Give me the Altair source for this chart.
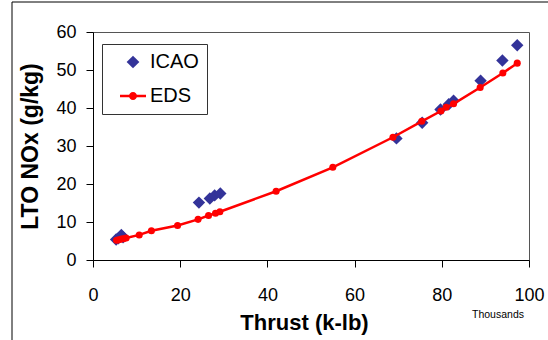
import altair as alt
import pandas as pd

# ---- data ----
icao_thrust = [5.3, 5.8, 6.5, 6.9, 24.3, 26.8, 27.9, 29.2, 69.6, 75.5, 79.7, 81.6, 82.7, 88.9, 93.9, 97.3]
icao_nox = [5.4, 5.7, 6.6, 6.0, 15.1, 16.2, 17.0, 17.5, 32.0, 36.1, 39.6, 41.0, 41.9, 47.2, 52.5, 56.5]

eds_thrust = [5.4, 5.9, 6.5, 7.0, 7.6, 10.6, 13.4, 19.4, 24.1, 26.5, 28.1, 29.1,
              42.0, 55.0, 68.8, 75.4, 79.8, 81.0, 82.7, 88.8, 94.0, 97.3]
eds_nox = [5.2, 5.3, 5.5, 5.6, 5.8, 6.6, 7.7, 9.1, 10.7, 11.7, 12.3, 12.7,
           18.1, 24.4, 32.3, 36.5, 39.2, 40.2, 41.1, 45.4, 49.2, 51.8]

series_names = ["ICAO", "EDS"]
x_ticks = [0, 20, 40, 60, 80, 100]
y_ticks = [0, 10, 20, 30, 40, 50, 60]

icao_df = pd.DataFrame({"thrust": icao_thrust, "nox": icao_nox, "series": "ICAO"})
eds_df = pd.DataFrame({"thrust": eds_thrust, "nox": eds_nox, "series": "EDS"})

W, H = 436, 228
FONT = "Liberation Sans"

diamond_path = "M-0.98,0L0,-0.98L0.98,0L0,0.98Z"
line_dot_path = ("M-2,-0.19L2,-0.19L2,0.19L-2,0.19Z "
                 "M0.62,0A0.62,0.62 0 1,1 -0.62,0A0.62,0.62 0 1,1 0.62,0Z")

x_scale = alt.Scale(domain=[0, 100], nice=False, zero=False, padding=0)
y_scale = alt.Scale(domain=[0, 60], nice=False, padding=0)

x_axis = alt.Axis(values=x_ticks, title="Thrust (k-lb)", grid=False, labelOverlap=False,
                  labelFlush=False, labelFontSize=18, labelPadding=19, tickSize=7,
                  titleFontSize=22, titleFontWeight="bold", titleX=211, titleY=69,
                  titleBaseline="alphabetic", titleAlign="center")
y_axis = alt.Axis(values=y_ticks, title="LTO NOx (g/kg)", grid=False, labelOverlap=False,
                  labelFlush=False, labelFontSize=18, labelPadding=10, tickSize=7,
                  titleFontSize=23, titleFontWeight="bold", titleX=-63, titleY=114,
                  titleAngle=270, titleBaseline="middle", titleAlign="center")

legend = alt.Legend(title=None, orient="none", legendX=9, legendY=12,
                    fillColor="white", strokeColor="#333333", padding=8,
                    labelFontSize=20, labelOffset=7, symbolSize=169,
                    symbolOffset=13, symbolStrokeWidth=0, rowPadding=14)

color_enc = alt.Color("series:N", scale=alt.Scale(domain=series_names, range=["#333399", "#FF0000"]),
                      legend=legend)
shape_enc = alt.Shape("series:N", scale=alt.Scale(domain=series_names, range=[diamond_path, line_dot_path]),
                      legend=legend)

X = alt.X("thrust:Q", scale=x_scale, axis=x_axis)
Y = alt.Y("nox:Q", scale=y_scale, axis=y_axis)

icao = alt.Chart(icao_df).mark_point(filled=True, size=160, opacity=1).encode(
    x=X, y=Y, color=color_enc, shape=shape_enc,
)

eds_line = alt.Chart(eds_df).mark_line(color="#FF0000", strokeWidth=2.5).encode(
    x=X, y=Y, order="thrust:Q",
)
eds_pts = alt.Chart(eds_df).mark_circle(color="#FF0000", size=50, opacity=1).encode(
    x=X, y=Y,
)

one = pd.DataFrame({"t": ["Thousands"]})
thousands = alt.Chart(one).mark_text(fontSize=10.5, font=FONT, align="center",
                                     baseline="alphabetic", color="black").encode(
    text="t:N", x=alt.value(405), y=alt.value(286))

frame_left = alt.Chart(one).mark_rule(color="black", strokeWidth=1).encode(
    x=alt.value(-81), y=alt.value(-30), y2=alt.value(320))
frame_top = alt.Chart(one).mark_rule(color="black", strokeWidth=1).encode(
    x=alt.value(-81), x2=alt.value(470), y=alt.value(-30))

chart = alt.layer(icao, eds_line, eds_pts, thousands, frame_left, frame_top).properties(
    width=W, height=H,
    autosize=alt.AutoSizeParams(type="none"),
    padding={"left": 93, "top": 32, "right": 19, "bottom": 80},
).configure(font=FONT).configure_view(
    stroke="#555555", strokeWidth=1
).configure_axis(
    domainColor="black", tickColor="black", labelColor="black", titleColor="black",
    labelFont=FONT, titleFont=FONT, domainWidth=1, tickWidth=1
).configure_legend(labelFont=FONT, labelColor="black")

chart.save("out.html", embed_options={"renderer": "svg", "actions": False})
